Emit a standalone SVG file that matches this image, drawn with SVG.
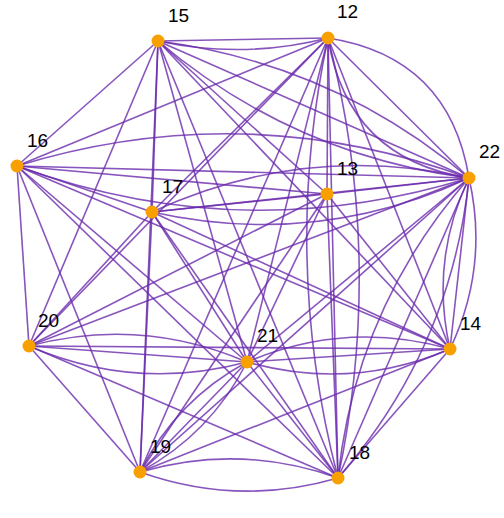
<svg xmlns="http://www.w3.org/2000/svg" width="504" height="518" viewBox="0 0 504 518">
<style>
.e{fill:none;stroke:#6a2aad;stroke-opacity:0.8;stroke-width:1.6}
.n{fill:#f7a000}
.t{font-family:"Liberation Sans",Arial,sans-serif;font-size:19px;fill:#000}
</style>
<rect width="504" height="518" fill="#fff"/>
<g id="edges" class="e">
<path d="M328 38L327 194"/><path d="M328 38L450 349"/><path d="M328 38L158 41"/><path d="M328 38L17 166"/><path d="M328 38L152 212"/><path d="M328 38L338 478"/><path d="M328 38L140 472"/><path d="M328 38L29 346"/><path d="M328 38L247 362"/><path d="M328 38L469 178"/>
<path d="M327 194L450 349"/><path d="M327 194L158 41"/><path d="M327 194L17 166"/><path d="M327 194L152 212"/><path d="M327 194L338 478"/><path d="M327 194L140 472"/><path d="M327 194L29 346"/><path d="M327 194L247 362"/><path d="M327 194L469 178"/>
<path d="M450 349L158 41"/><path d="M450 349L17 166"/><path d="M450 349L152 212"/><path d="M450 349L338 478"/><path d="M450 349L140 472"/><path d="M450 349L29 346"/><path d="M450 349L247 362"/><path d="M450 349L469 178"/>
<path d="M158 41L17 166"/><path d="M158 41L152 212"/><path d="M158 41L338 478"/><path d="M158 41L140 472"/><path d="M158 41L29 346"/><path d="M158 41L247 362"/><path d="M158 41L469 178"/>
<path d="M17 166L152 212"/><path d="M17 166L338 478"/><path d="M17 166L140 472"/><path d="M17 166L29 346"/><path d="M17 166L247 362"/><path d="M17 166L469 178"/>
<path d="M152 212L338 478"/><path d="M152 212L140 472"/><path d="M152 212L29 346"/><path d="M152 212L247 362"/><path d="M152 212L469 178"/>
<path d="M338 478L29 346"/><path d="M338 478L247 362"/><path d="M338 478L469 178"/>
<path d="M140 472L29 346"/><path d="M140 472L247 362"/><path d="M140 472L469 178"/>
<path d="M29 346L247 362"/><path d="M29 346L469 178"/>
<path d="M247 362L469 178"/>
<path d="M328 38Q347.8 159.1 469 178"/><path d="M328 38Q449.2 56.9 469 178"/>
<path d="M328 38Q281 259.2 338 478"/><path d="M328 38Q385 256.8 338 478"/>
<path d="M450 349Q346.2 319.6 247 362"/><path d="M450 349Q350.8 391.4 247 362"/>
<path d="M469 178Q429.7 260.2 450 349"/><path d="M469 178Q489.3 266.8 450 349"/>
<path d="M158 41Q293.3 155.3 469 178"/><path d="M158 41Q333.7 63.7 469 178"/>
<path d="M17 166Q241 248 469 178"/><path d="M17 166Q245 96 469 178"/>
<path d="M152 212Q316.3 248.7 469 178"/><path d="M152 212Q304.7 141.3 469 178"/>
<path d="M140 472Q238 507 338 478"/><path d="M140 472Q240 443 338 478"/>
<path d="M469 178Q355.9 307.2 338 478"/><path d="M469 178Q451.1 348.8 338 478"/>
<path d="M29 346Q135.2 391.9 247 362"/><path d="M29 346Q140.8 316.1 247 362"/>
<path d="M140 472Q210.7 433.7 247 362"/><path d="M140 472Q176.3 400.3 247 362"/>
<path d="M158 41Q243.4 59.5 328 38"/>
</g>
<g id="n12"><circle class="n" cx="328" cy="38" r="6.5"/><text class="t" x="337" y="18">12</text></g>
<g id="n13"><circle class="n" cx="327" cy="194" r="6.5"/><text class="t" x="337" y="175">13</text></g>
<g id="n14"><circle class="n" cx="450" cy="349" r="6.5"/><text class="t" x="460" y="330">14</text></g>
<g id="n15"><circle class="n" cx="158" cy="41" r="6.5"/><text class="t" x="168" y="22">15</text></g>
<g id="n16"><circle class="n" cx="17" cy="166" r="6.5"/><text class="t" x="27" y="147">16</text></g>
<g id="n17"><circle class="n" cx="152" cy="212" r="6.5"/><text class="t" x="162" y="193">17</text></g>
<g id="n18"><circle class="n" cx="338" cy="478" r="6.5"/><text class="t" x="349" y="459">18</text></g>
<g id="n19"><circle class="n" cx="140" cy="472" r="6.5"/><text class="t" x="150" y="453">19</text></g>
<g id="n20"><circle class="n" cx="29" cy="346" r="6.5"/><text class="t" x="38" y="327">20</text></g>
<g id="n21"><circle class="n" cx="247" cy="362" r="6.5"/><text class="t" x="257" y="342">21</text></g>
<g id="n22"><circle class="n" cx="469" cy="178" r="6.5"/><text class="t" x="479" y="158">22</text></g>
</svg>
